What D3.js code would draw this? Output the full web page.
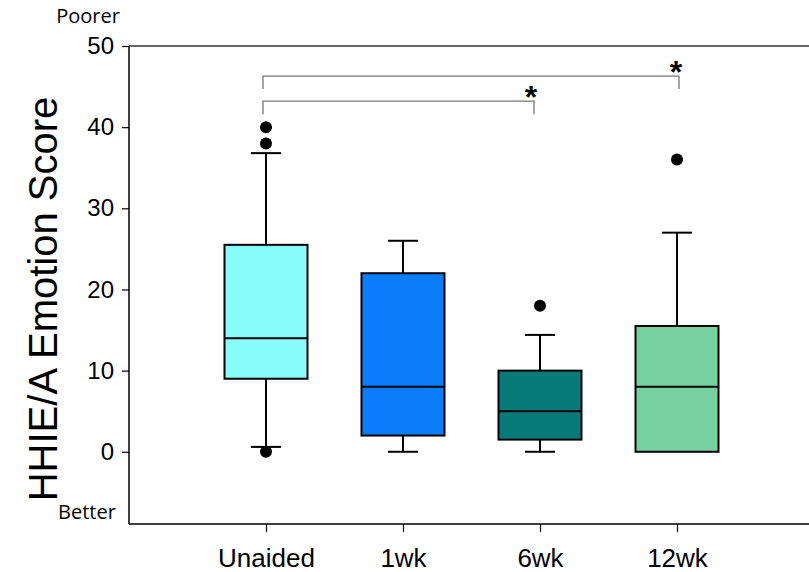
<!DOCTYPE html>
<html>
<head>
<meta charset="utf-8">
<script src="https://cdn.jsdelivr.net/npm/d3@7"></script>
<style>
  body { margin: 0; background: #fff; }
</style>
</head>
<body>
<div id="chart"></div>
<script>
const categories = ['Unaided', '1wk', '6wk', '12wk']
const whiskerHigh = [36.8, 26, 14.4, 27]
const q3 = [25.5, 22, 10, 15.5]
const median = [14, 8, 5, 8]
const q1 = [9, 2, 1.5, 0]
const whiskerLow = [0.6, 0, 0, 0]
const outliers = [[40, 38, 0], [], [18], [36]]
const boxColors = ['#88fdfd', '#0a7dfd', '#087a7a', '#76d0a0']
const yTicks = [0, 10, 20, 30, 40, 50]
// pairs compared against Unaided, bracket height in data units
const brackets = [
  { from: 'Unaided', to: '6wk', level: 43.2 },
  { from: 'Unaided', to: '12wk', level: 46.3 }
]

const width = 809, height = 572
const margin = { top: 46, left: 129, right: 0, bottom: 48 }

const svg = d3.select('#chart').append('svg')
  .attr('width', width).attr('height', height)

const y = d3.scaleLinear().domain([-8.9, 50]).range([height - margin.bottom, margin.top])
const x = d3.scalePoint().domain(categories).range([266, 677])
const boxW = 83, capW = 30
const font = 'Liberation Sans, Arial, sans-serif'

// frame: left axis, top line, bottom line
svg.append('line').attr('x1', margin.left).attr('x2', margin.left)
  .attr('y1', margin.top).attr('y2', height - margin.bottom)
  .attr('stroke', '#000').attr('stroke-width', 1.5)
svg.append('line').attr('x1', margin.left).attr('x2', width)
  .attr('y1', margin.top).attr('y2', margin.top)
  .attr('stroke', '#333').attr('stroke-width', 1.5)
svg.append('line').attr('x1', margin.left).attr('x2', width)
  .attr('y1', height - margin.bottom).attr('y2', height - margin.bottom)
  .attr('stroke', '#000').attr('stroke-width', 1.5)

// y axis
const yAxis = svg.append('g')
  .attr('transform', `translate(${margin.left},0)`)
  .call(d3.axisLeft(y).tickValues(yTicks).tickSize(7).tickPadding(8))
yAxis.select('.domain').remove()
yAxis.selectAll('line').attr('stroke', '#000').attr('stroke-width', 1.2)
yAxis.selectAll('text').attr('font-family', font)
  .attr('font-size', 24).attr('fill', '#000')

// x axis
const xAxis = svg.append('g')
  .attr('transform', `translate(0,${height - margin.bottom})`)
  .call(d3.axisBottom(x).tickSize(8).tickPadding(17))
xAxis.select('.domain').remove()
xAxis.selectAll('line').attr('stroke', '#000').attr('stroke-width', 1.2)
xAxis.selectAll('text').attr('font-family', font)
  .attr('font-size', 26).attr('fill', '#000')

// y title
svg.append('text')
  .attr('transform', `translate(57,${(y(50) + y(-8.9)) / 2 + 14}) rotate(-90)`)
  .attr('text-anchor', 'middle')
  .attr('font-family', font)
  .attr('font-size', 40)
  .text('HHIE/A Emotion Score')

svg.append('text').attr('x', 88).attr('y', 23).attr('text-anchor', 'middle')
  .attr('font-family', 'Open Sans, sans-serif').attr('font-size', 20).text('Poorer')
svg.append('text').attr('x', 87).attr('y', 519).attr('text-anchor', 'middle')
  .attr('font-family', 'Open Sans, sans-serif').attr('font-size', 20).text('Better')

// boxes
categories.forEach((c, i) => {
  const g = svg.append('g').attr('class', 'box')
  const cx = x(c)
  // upper whisker
  if (whiskerHigh[i] > q3[i]) {
    g.append('line').attr('x1', cx).attr('x2', cx)
      .attr('y1', y(q3[i])).attr('y2', y(whiskerHigh[i]))
    g.append('line').attr('x1', cx - capW / 2).attr('x2', cx + capW / 2)
      .attr('y1', y(whiskerHigh[i])).attr('y2', y(whiskerHigh[i]))
  }
  if (whiskerLow[i] < q1[i]) {
    g.append('line').attr('x1', cx).attr('x2', cx)
      .attr('y1', y(q1[i])).attr('y2', y(whiskerLow[i]))
    g.append('line').attr('x1', cx - capW / 2).attr('x2', cx + capW / 2)
      .attr('y1', y(whiskerLow[i])).attr('y2', y(whiskerLow[i]))
  }
  g.selectAll('line').attr('stroke', '#000').attr('stroke-width', 2)

  g.append('rect')
    .attr('x', cx - boxW / 2).attr('width', boxW)
    .attr('y', y(q3[i])).attr('height', y(q1[i]) - y(q3[i]))
    .attr('fill', boxColors[i]).attr('stroke', '#000').attr('stroke-width', 2)
  g.append('line').attr('x1', cx - boxW / 2).attr('x2', cx + boxW / 2)
    .attr('y1', y(median[i])).attr('y2', y(median[i]))
    .attr('stroke', '#000').attr('stroke-width', 2)

  g.selectAll('circle.out').data(outliers[i]).join('circle')
    .attr('class', 'out')
    .attr('cx', cx).attr('cy', d => y(d)).attr('r', 6).attr('fill', '#000')
})

// significance brackets (right ends sit slightly off the group centre, as in the original)
const endShift = { '6wk': -6, '12wk': 2 }
brackets.forEach(b => {
  const x1 = x(b.from) - 3, x2 = x(b.to) + (endShift[b.to] || 0)
  const yb = y(b.level), drop = 13
  svg.append('path')
    .attr('d', `M${x1},${yb + drop}V${yb}H${x2}V${yb + drop}`)
    .attr('fill', 'none').attr('stroke', '#777').attr('stroke-width', 1.3)
  svg.append('text')
    .attr('x', x2 - 3).attr('y', yb + 7).attr('text-anchor', 'middle')
    .attr('font-family', font)
    .attr('font-weight', 'bold').attr('font-size', 32).text('*')
})
</script>
</body>
</html>
